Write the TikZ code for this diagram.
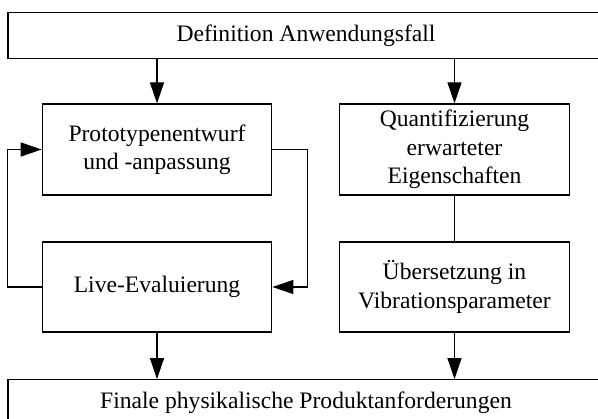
\documentclass[tikz,border=0pt]{standalone}
\usepackage{fontspec}
\setmainfont{Liberation Serif}
\usetikzlibrary{arrows.meta}
\usetikzlibrary{positioning}
\tikzset{box/.style={draw, line width=1.2bp, inner sep=0pt, align=center, font=\fontsize{23.6bp}{28.3bp}\selectfont},
  wide/.style={box, minimum width=596bp, minimum height=45.6bp},
  step box/.style={box, minimum width=229.5bp, minimum height=91bp},
  flow/.style={line width=1.2bp, -{Triangle[length=21bp,width=14bp]}}}

\begin{document}
\begin{tikzpicture}[line join=miter,]
%%
\clip (0,0) rectangle (598bp,419bp);
\node (anw) at (306.0bp,383.5bp) [wide] {Definition Anwendungsfall};
  \node (proto) at (157.0bp,269.5bp) [step box] {Prototypenentwurf\\und -anpassung};
  \node (quant) at (454.5bp,269.5bp) [step box] {Quantifizierung\\erwarteter\\Eigenschaften};
  \node (live) at (157.0bp,132.0bp) [step box, minimum height=90bp] {Live-Evaluierung};
  \node (vib) at (454.5bp,132.0bp) [step box, minimum height=90bp] {Übersetzung in\\Vibrationsparameter};
  \node (final) at (306.0bp,16.5bp) [wide] {Finale physikalische Produktanforderungen};
  \draw [flow] (anw.south -| proto) -- (proto);
  \draw [flow] (anw.south -| quant) -- (quant);
  \draw [line width=1.2bp] (quant) -- (vib);
  \draw [flow] (proto.east) -- ++(35bp,0bp) |- (live.east);
  \draw [flow] (live.west) -- ++(-34bp,0bp) |- (proto.west);
  \draw [flow] (live) -- (live |- final.north);
  \draw [flow] (vib) -- (vib |- final.north);
%
\end{tikzpicture}
\end{document}
